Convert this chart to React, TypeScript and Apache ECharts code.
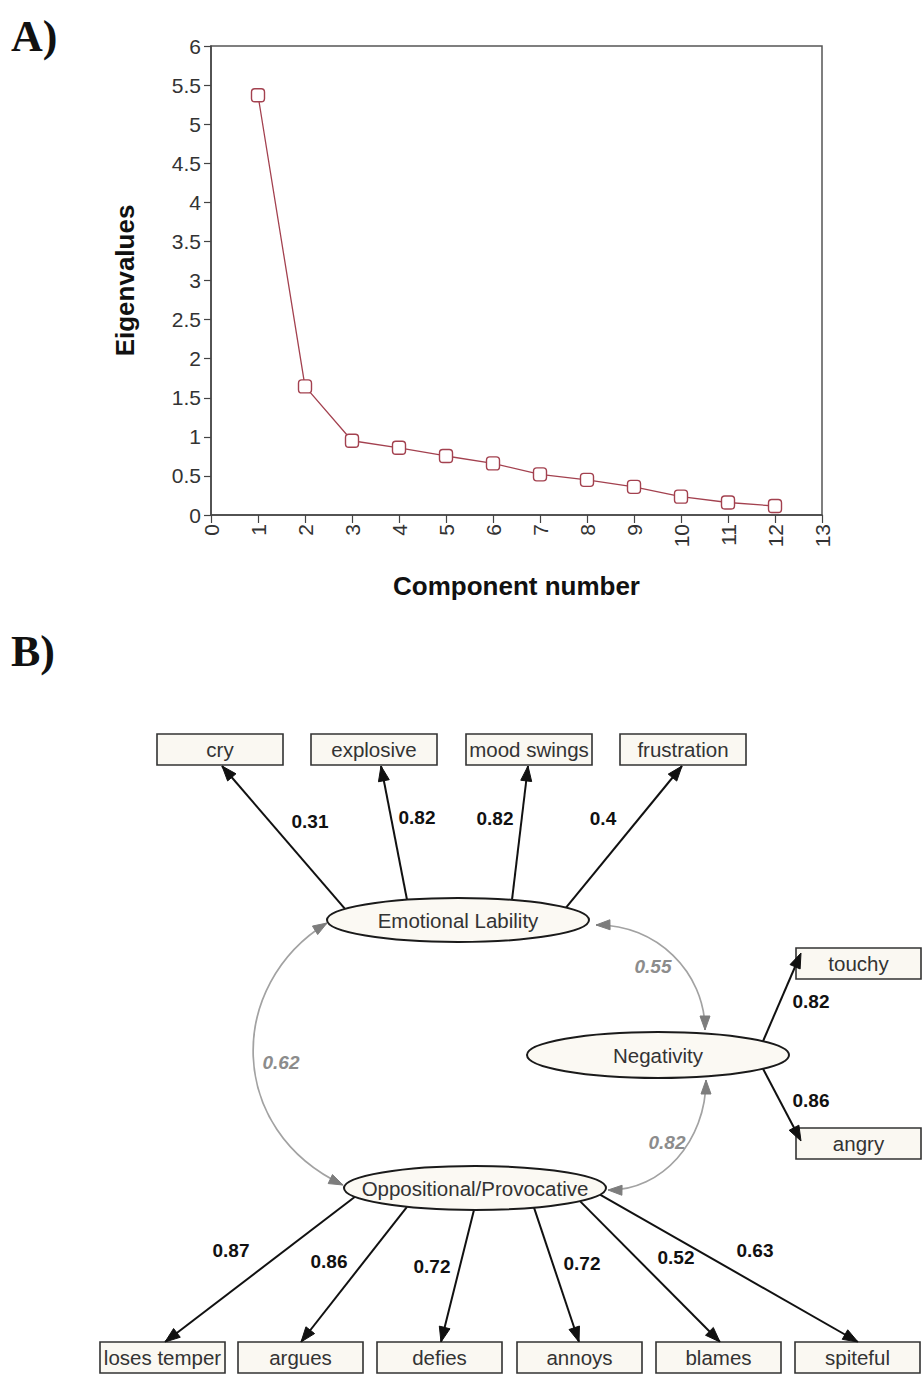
import React, { useEffect, useRef } from "react";
import * as echarts from "echarts";

// ---------- Panel A data ----------
const components = [1, 2, 3, 4, 5, 6, 7, 8, 9, 10, 11, 12];
const eigenvalues = [5.37, 1.645, 0.95, 0.86, 0.755, 0.66, 0.52, 0.45, 0.36, 0.235, 0.16, 0.115];
const xTicks = [0, 13, 1]; // min, max, interval
const yTicks = [0, 6, 0.5];

// ---------- Panel B data ----------
const emotionalItems = ["cry", "explosive", "mood swings", "frustration"];
const emotionalLoadings = [0.31, 0.82, 0.82, 0.4];
const negativityItems = ["touchy", "angry"];
const negativityLoadings = [0.82, 0.86];
const oppositionalItems = ["loses temper", "argues", "defies", "annoys", "blames", "spiteful"];
const oppositionalLoadings = [0.87, 0.86, 0.72, 0.72, 0.52, 0.63];
const factorNames = ["Emotional Lability", "Negativity", "Oppositional/Provocative"];
const factorCorrelations = [0.62, 0.55, 0.82]; // EL-OP, EL-NEG, NEG-OP

const SANS = "'Liberation Sans', Arial, sans-serif";
const SERIF = "'Liberation Serif', 'Times New Roman', serif";

type Pt = [number, number];

function arrowHead(tip: Pt, from: Pt, len: number, half: number, color: string) {
  const dx = tip[0] - from[0];
  const dy = tip[1] - from[1];
  const d = Math.hypot(dx, dy) || 1;
  const ux = dx / d, uy = dy / d;
  const bx = tip[0] - ux * len, by = tip[1] - uy * len;
  const px = -uy, py = ux;
  return {
    type: "polygon",
    z: 20,
    shape: { points: [tip, [bx + px * half, by + py * half], [bx - px * half, by - py * half]] },
    style: { fill: color, stroke: color, lineWidth: 1 },
  };
}

function ellY(cx: number, cy: number, rx: number, ry: number, x: number, upper: boolean) {
  const t = Math.max(0, 1 - ((x - cx) / rx) ** 2);
  return cy + (upper ? -1 : 1) * ry * Math.sqrt(t);
}

function buildDiagram() {
  const g: any[] = [];
  const boxFill = "#faf8f2";
  const boxStroke = "#333";
  const ellFill = "#fbf9f3";
  const black = "#111";
  const gray = "#a2a2a2";

  const box = (x: number, y: number, w: number, h: number, label: string) => {
    g.push({ type: "rect", z: 10, shape: { x, y, width: w, height: h }, style: { fill: boxFill, stroke: boxStroke, lineWidth: 1.6 } });
    g.push({ type: "text", z: 11, x: x + w / 2, y: y + h / 2, style: { text: label, fontSize: 20.5, fontFamily: SANS, fill: "#333", align: "center", verticalAlign: "middle" } });
  };
  const ell = (cx: number, cy: number, rx: number, ry: number, label: string) => {
    g.push({ type: "ellipse", z: 10, shape: { cx, cy, rx, ry }, style: { fill: ellFill, stroke: "#1a1a1a", lineWidth: 2 } });
    g.push({ type: "text", z: 11, x: cx, y: cy, style: { text: label, fontSize: 20.5, fontFamily: SANS, fill: "#333", align: "center", verticalAlign: "middle" } });
  };
  const loading = (from: Pt, tip: Pt, value: number, lx: number, ly: number) => {
    g.push({ type: "line", z: 5, shape: { x1: from[0], y1: from[1], x2: tip[0], y2: tip[1] }, style: { stroke: black, lineWidth: 2 } });
    g.push(arrowHead(tip, from, 15, 5.5, black));
    g.push({ type: "text", z: 11, x: lx, y: ly, style: { text: String(value), fontSize: 19, fontWeight: "bold", fontFamily: SANS, fill: "#111", align: "center", verticalAlign: "middle" } });
  };
  const corr = (p0: Pt, c1: Pt, c2: Pt, p3: Pt, value: number, lx: number, ly: number) => {
    g.push({ type: "bezierCurve", z: 4, shape: { x1: p0[0], y1: p0[1], cpx1: c1[0], cpy1: c1[1], cpx2: c2[0], cpy2: c2[1], x2: p3[0], y2: p3[1] }, style: { stroke: gray, lineWidth: 1.7, fill: null } });
    g.push(arrowHead(p0, c1, 14, 5, "#7d7d7d"));
    g.push(arrowHead(p3, c2, 14, 5, "#7d7d7d"));
    g.push({ type: "text", z: 11, x: lx, y: ly, style: { text: value.toFixed(2), fontSize: 19, fontWeight: "bold", fontStyle: "italic", fontFamily: SANS, fill: "#8c8c8c", align: "center", verticalAlign: "middle" } });
  };

  // Factor ellipses
  const EL = { cx: 458, cy: 920, rx: 131, ry: 22 };
  const NG = { cx: 658, cy: 1055, rx: 131, ry: 23 };
  const OP = { cx: 475, cy: 1188, rx: 131, ry: 22 };

  // Emotional lability indicators (top)
  const topLeft = [157, 311, 466, 620];
  const topStartX = [345, 407, 512, 566];
  const topTipX = [222, 381, 528, 682];
  const topLabel: Pt[] = [[310, 821], [417, 817], [495, 818], [603, 818]];
  emotionalItems.forEach((name, i) => {
    box(topLeft[i], 734, 126, 31, name);
    const sx = topStartX[i];
    loading([sx, ellY(EL.cx, EL.cy, EL.rx, EL.ry, sx, true)], [topTipX[i], 766], emotionalLoadings[i], topLabel[i][0], topLabel[i][1]);
  });

  // Negativity indicators (right)
  const rightTop = [948, 1128];
  const rightTip: Pt[] = [[801, 953], [801, 1141]];
  const rightLabel: Pt[] = [[811, 1001], [811, 1100]];
  negativityItems.forEach((name, i) => {
    box(796, rightTop[i], 125, 31, name);
    const sx = 763;
    loading([sx, ellY(NG.cx, NG.cy, NG.rx, NG.ry, sx, i === 0)], rightTip[i], negativityLoadings[i], rightLabel[i][0], rightLabel[i][1]);
  });

  // Oppositional indicators (bottom)
  const botLeft = [100, 238, 377, 517, 656, 795];
  const botStartX = [355, 407, 474, 534, 580, 600];
  const botTipX = [165, 301, 441, 579, 720, 858];
  const botLabel: Pt[] = [[231, 1250], [329, 1261], [432, 1266], [582, 1263], [676, 1257], [755, 1250]];
  oppositionalItems.forEach((name, i) => {
    box(botLeft[i], 1342, 125, 31, name);
    const sx = botStartX[i];
    loading([sx, ellY(OP.cx, OP.cy, OP.rx, OP.ry, sx, false)], [botTipX[i], 1342], oppositionalLoadings[i], botLabel[i][0], botLabel[i][1]);
  });

  // Correlations
  corr([327, 923], [226, 985], [226, 1130], [343, 1185], factorCorrelations[0], 281, 1062);
  corr([596, 925], [656, 924], [705, 972], [705, 1030], factorCorrelations[1], 653, 966);
  corr([706, 1080], [706, 1141], [662, 1191], [608, 1190], factorCorrelations[2], 667, 1142);

  ell(EL.cx, EL.cy, EL.rx, EL.ry, factorNames[0]);
  ell(NG.cx, NG.cy, NG.rx, NG.ry, factorNames[1]);
  ell(OP.cx, OP.cy, OP.rx, OP.ry, factorNames[2]);

  // Panel letters
  g.push({ type: "text", x: 11, y: 36, style: { text: "A)", fontSize: 44, fontWeight: "bold", fontFamily: SERIF, fill: "#111", verticalAlign: "middle" } });
  g.push({ type: "text", x: 11, y: 651, style: { text: "B)", fontSize: 44, fontWeight: "bold", fontFamily: SERIF, fill: "#111", verticalAlign: "middle" } });
  return g;
}

export default function App() {
  const ref = useRef<HTMLDivElement>(null);
  useEffect(() => {
    document.body.style.margin = "0";
    if (!ref.current) return;
    const chart = echarts.init(ref.current, undefined, { renderer: "svg" });
    const axisColor = "#444";
    chart.setOption({
      animation: false,
      backgroundColor: "#ffffff",
      grid: { left: 211, top: 46, width: 611, height: 469, show: true, borderColor: "#555", borderWidth: 1.5 },
      xAxis: {
        type: "value",
        min: xTicks[0],
        max: xTicks[1],
        interval: xTicks[2],
        name: "Component number",
        nameLocation: "middle",
        nameGap: 58,
        nameTextStyle: { fontSize: 26, fontWeight: "bold", fontFamily: SANS, color: "#111" },
        axisLine: { show: true, lineStyle: { color: axisColor, width: 1.5 } },
        axisTick: { show: true, length: 8, lineStyle: { color: axisColor, width: 1.2 } },
        axisLabel: { rotate: 90, fontSize: 21, fontFamily: SANS, color: "#333", margin: 9 },
        splitLine: { show: false },
      },
      yAxis: {
        type: "value",
        min: yTicks[0],
        max: yTicks[1],
        interval: yTicks[2],
        name: "Eigenvalues",
        nameLocation: "middle",
        nameRotate: 90,
        nameGap: 73,
        nameTextStyle: { fontSize: 26, fontWeight: "bold", fontFamily: SANS, color: "#111" },
        axisLine: { show: true, lineStyle: { color: axisColor, width: 1.5 } },
        axisTick: { show: true, length: 7, lineStyle: { color: axisColor, width: 1.2 } },
        axisLabel: { fontSize: 21, fontFamily: SANS, color: "#333", margin: 10 },
        splitLine: { show: false },
      },
      series: [
        {
          type: "line",
          data: components.map((c, i) => [c, eigenvalues[i]]),
          symbol: "roundRect",
          symbolSize: 13,
          itemStyle: { color: "#ffffff", borderColor: "#a3414f", borderWidth: 1.4 },
          lineStyle: { color: "#a3414f", width: 1.3 },
        },
      ],
      graphic: buildDiagram(),
    });
    return () => chart.dispose();
  }, []);
  return <div ref={ref} style={{ width: 922, height: 1374 }} />;
}
